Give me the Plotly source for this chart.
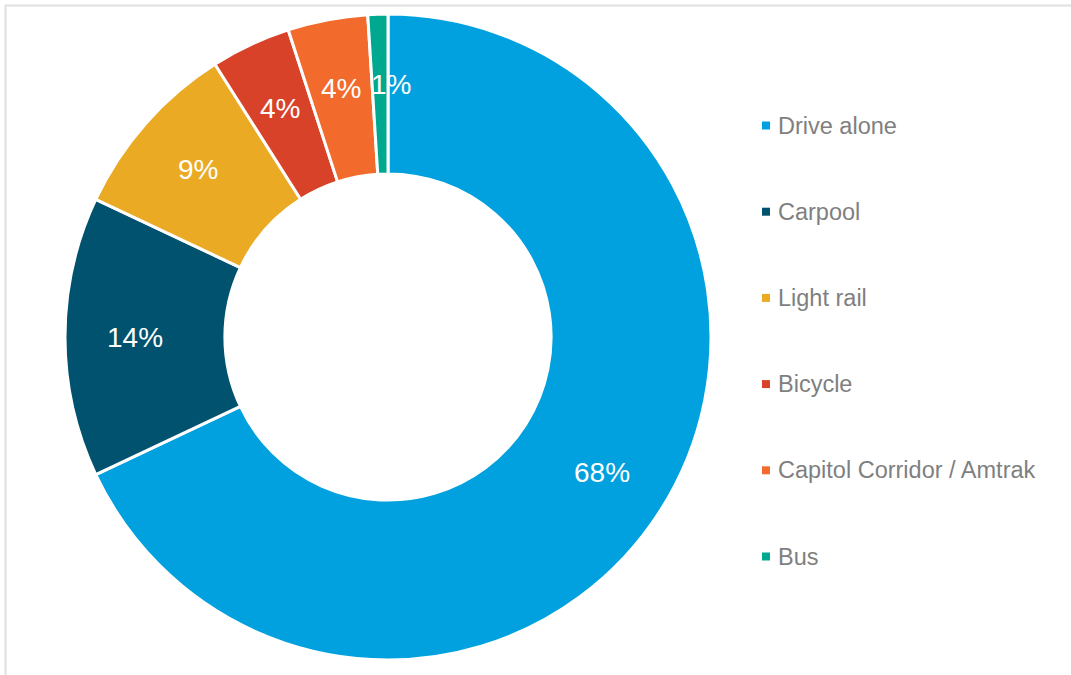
import math
import plotly.graph_objects as go

# Commute mode share (percent)
modes = ["Drive alone", "Carpool", "Light rail", "Bicycle",
         "Capitol Corridor / Amtrak", "Bus"]
shares = [68, 14, 9, 4, 4, 1]
colors = ["#00A1DE", "#00526E", "#EAAA24", "#D84228", "#F26A2C", "#00A88F"]

W, H = 1071, 675
FONT = "Liberation Sans, Arial, sans-serif"
LABEL_SIZE = 28
LABEL_GAP = 10  # minimum horizontal spacing between neighbouring labels


def px_x(x):
    return x / W


def px_y(y):
    return 1 - y / H


def text_width(s, size):
    # rough Arial advance widths: digits 0.556 em, percent sign 0.889 em
    return sum(0.889 if ch == "%" else 0.556 for ch in s) * size


# donut geometry in pixels
cx, cy, r_out = 388, 337, 323
hole = 0.505
r_label = 253  # radius at which the percentage labels sit

fig = go.Figure()
fig.add_trace(go.Pie(
    labels=modes,
    values=shares,
    sort=False,
    direction="clockwise",
    rotation=0,
    hole=hole,
    marker=dict(colors=colors, line=dict(color="white", width=3)),
    textinfo="none",
    hoverinfo="label+percent",
    showlegend=False,
    domain=dict(x=[px_x(cx - r_out), px_x(cx + r_out)],
                y=[px_y(cy + r_out), px_y(cy - r_out)]),
))

annotations = []

# percentage labels at the middle angle of each slice (clockwise from 12 o'clock),
# nudged sideways when two neighbouring labels would collide
total = sum(shares)
cum = 0
placed = []
for v in shares:
    mid = (cum + v / 2) / total * 2 * math.pi
    cum += v
    txt = f"{v}%"
    w = text_width(txt, LABEL_SIZE)
    lx = cx + r_label * math.sin(mid)
    ly = cy - r_label * math.cos(mid)
    if placed:
        px_, py_, pw = placed[-1]
        if abs(ly - py_) < LABEL_SIZE:
            overlap = (px_ + pw / 2 + LABEL_GAP) - (lx - w / 2)
            if overlap > 0:
                lx += overlap
    placed.append((lx, ly, w))
    annotations.append(dict(xref="paper", yref="paper",
                            x=px_x(lx), y=px_y(ly),
                            xanchor="center", yanchor="middle",
                            text=txt, showarrow=False,
                            font=dict(family=FONT, size=LABEL_SIZE, color="white")))

# outer frame (only the top and left edges fall inside the canvas)
shapes = [dict(type="rect", xref="paper", yref="paper",
               x0=px_x(5.5), x1=1.05, y0=-0.05, y1=px_y(5.5),
               line=dict(color="#E0E0E0", width=2), fillcolor="rgba(0,0,0,0)",
               layer="below")]

# legend drawn as swatches + labels
leg_top, leg_step = 125.5, 86.2
for i, (m, c) in enumerate(zip(modes, colors)):
    yc = leg_top + i * leg_step
    shapes.append(dict(type="rect", xref="paper", yref="paper",
                       x0=px_x(762), x1=px_x(770),
                       y0=px_y(yc + 4), y1=px_y(yc - 4),
                       line=dict(width=0), fillcolor=c))
    annotations.append(dict(xref="paper", yref="paper",
                            x=px_x(776), y=px_y(yc),
                            xanchor="left", yanchor="middle",
                            text=m, showarrow=False,
                            font=dict(family=FONT, size=23.5, color="#7F7F7F")))

fig.update_layout(
    width=W, height=H,
    margin=dict(l=0, r=0, t=0, b=0),
    paper_bgcolor="white",
    plot_bgcolor="white",
    shapes=shapes,
    annotations=annotations,
)

fig.write_html("out.html")
